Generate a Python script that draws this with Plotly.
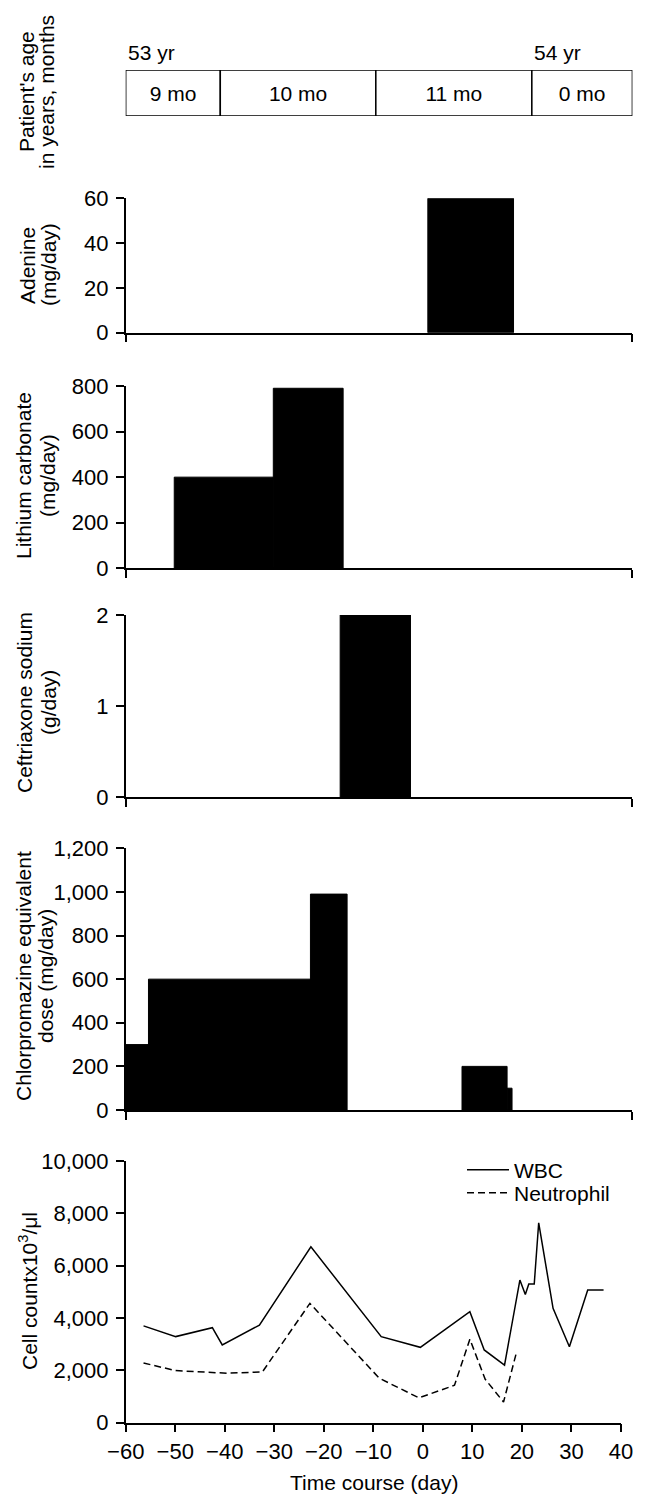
import plotly.graph_objects as go

# ---- data ----
month_labels = ["9 mo", "10 mo", "11 mo", "0 mo"]
month_start = [-60.0, -40.9, -9.5, 22.0]
month_end = [-40.9, -9.5, 22.0, 42.3]
year_labels = ["53 yr", "54 yr"]
year_day = [-60.0, 22.0]

adenine_start = [1.0]
adenine_end = [18.3]
adenine_dose = [60]

lithium_start = [-50.2, -30.2]
lithium_end = [-30.2, -16.1]
lithium_dose = [400, 790]

ceftriaxone_start = [-16.7]
ceftriaxone_end = [-2.5]
ceftriaxone_dose = [2]

cpz_start = [-60.0, -55.4, -22.7, 7.9, 17.0]
cpz_end = [-55.4, -22.7, -15.3, 17.0, 18.0]
cpz_dose = [300, 600, 990, 200, 100]

wbc_day = [-56.4, -49.9, -42.5, -40.5, -33.0, -22.6, -8.4, -0.5, 9.5, 12.4, 16.5,
           19.6, 20.7, 21.4, 22.5, 23.4, 26.3, 29.6, 33.3, 36.5]
wbc_count = [3700, 3290, 3630, 2970, 3730, 6720, 3290, 2880, 4240, 2780, 2200,
             5450, 4900, 5300, 5300, 7640, 4370, 2900, 5070, 5070]

neut_day = [-56.4, -49.9, -39.6, -32.4, -22.8, -8.8, -0.8, 6.4, 9.5, 12.6, 16.3, 18.9]
neut_count = [2280, 1990, 1890, 1940, 4560, 1700, 950, 1430, 3190, 1660, 790, 2680]

day_ticks = [-60, -50, -40, -30, -20, -10, 0, 10, 20, 30, 40]

W, H = 646, 1506
FONT = "Liberation Sans, Arial, Helvetica, sans-serif"


def px_x(p):
    return p / W


def px_y(p):
    return 1 - p / H


def widths(starts, ends):
    return [e - s for s, e in zip(starts, ends)]


fig = go.Figure()

# age timeline
fig.add_trace(go.Bar(
    y=[0] * len(month_labels), x=widths(month_start, month_end), base=month_start,
    orientation="h", width=1, text=month_labels, textposition="inside",
    insidetextanchor="middle", textangle=0, cliponaxis=False,
    textfont=dict(size=21, color="black", family=FONT),
    marker=dict(color="white", line=dict(color="black", width=1.5)),
    xaxis="x", yaxis="y", showlegend=False, hoverinfo="skip"))

dose_panels = [
    (adenine_start, adenine_end, adenine_dose, "x2", "y2"),
    (lithium_start, lithium_end, lithium_dose, "x3", "y3"),
    (ceftriaxone_start, ceftriaxone_end, ceftriaxone_dose, "x4", "y4"),
    (cpz_start, cpz_end, cpz_dose, "x5", "y5"),
]
for s, e, v, xa, ya in dose_panels:
    fig.add_trace(go.Bar(x=s, y=v, width=widths(s, e), offset=0,
                         marker=dict(color="black", line=dict(color="black", width=1)),
                         xaxis=xa, yaxis=ya, showlegend=False))

fig.add_trace(go.Scatter(x=wbc_day, y=wbc_count, mode="lines", name="WBC",
                         line=dict(color="black", width=1.5),
                         xaxis="x6", yaxis="y6", legend="legend"))
fig.add_trace(go.Scatter(x=neut_day, y=neut_count, mode="lines", name="Neutrophil",
                         line=dict(color="black", width=1.5, dash="7px,4px"),
                         xaxis="x6", yaxis="y6", legend="legend2"))

LEFT, RIGHT_UP, RIGHT_LOW = 125.7, 632.4, 620.9
up_dom = [px_x(LEFT), px_x(RIGHT_UP)]
low_dom = [px_x(LEFT), px_x(RIGHT_LOW)]
up_range = [-60, 42.3]

tick_font = dict(size=22, color="black", family=FONT)
xa_up = dict(domain=up_dom, range=up_range, showline=True, linecolor="black",
             linewidth=1.5, ticks="outside", ticklen=8, tickwidth=1.5,
             tickcolor="black", tickvals=[-60, 42.29], showticklabels=False,
             showgrid=False, zeroline=False, fixedrange=True, automargin=False)


def ya(top, bottom, rng, dtick, fmt=""):
    return dict(domain=[px_y(bottom), px_y(top)], range=rng, dtick=dtick,
                tickformat=fmt, showline=True, linecolor="black", linewidth=1.5,
                ticks="outside", ticklen=8, tickwidth=1.5, tickcolor="black",
                tickfont=tick_font, ticklabelstandoff=3, showgrid=False,
                zeroline=False, automargin=False)


fig.update_layout(
    width=W, height=H, margin=dict(l=0, r=0, t=0, b=0, autoexpand=False),
    paper_bgcolor="white", plot_bgcolor="white",
    font=dict(family=FONT, color="black", size=20),
    barmode="overlay",
    xaxis=dict(domain=up_dom, range=up_range, visible=False),
    yaxis=dict(domain=[px_y(116), px_y(70)], range=[-0.5, 0.5], visible=False),
    xaxis2=dict(xa_up, anchor="y2"),
    yaxis2=ya(198.3, 332.7, [0, 60], 20),
    xaxis3=dict(xa_up, anchor="y3"),
    yaxis3=ya(386, 568.3, [0, 800], 200),
    xaxis4=dict(xa_up, anchor="y4"),
    yaxis4=ya(615, 797.3, [0, 2], 1),
    xaxis5=dict(xa_up, anchor="y5"),
    yaxis5=ya(848.3, 1110, [0, 1200], 200, ","),
    xaxis6=dict(domain=low_dom, range=[-60, 40], anchor="y6", tickvals=day_ticks,
                showline=True, linecolor="black", linewidth=1.5, ticks="outside",
                ticklen=8, tickwidth=1.5, tickcolor="black", tickfont=tick_font,
                showgrid=False, zeroline=False, automargin=False),
    yaxis6=ya(1161, 1422.7, [0, 10000], 2000, ","),
    legend=dict(x=px_x(462), y=px_y(1170), xanchor="left", yanchor="middle",
                font=dict(size=21, family=FONT), bgcolor="rgba(0,0,0,0)",
                itemwidth=42),
    legend2=dict(x=px_x(462), y=px_y(1193), xanchor="left", yanchor="middle",
                 font=dict(size=21, family=FONT), bgcolor="rgba(0,0,0,0)",
                 itemwidth=42),
)

# year labels above the timeline
for lab, d in zip(year_labels, year_day):
    fig.add_annotation(x=d, y=px_y(53), xref="x", yref="paper", text=lab,
                       showarrow=False, xanchor="left", yanchor="middle",
                       font=dict(size=21))

# rotated y-axis titles (one annotation per line)
titles = [
    ("Patient's age", 27, 92), ("in years, months", 47, 92),
    ("Adenine", 27, 265), ("(mg/day)", 48, 265),
    ("Lithium carbonate", 24, 476), ("(mg/day)", 48, 476),
    ("Ceftriaxone sodium", 24, 703), ("(g/day)", 48, 703),
    ("Chlorpromazine equivalent", 23, 976), ("dose (mg/day)", 45, 976),
    ("Cell countx10<sup>3</sup>/μl", 28, 1291),
]
for txt, cx, cy in titles:
    fig.add_annotation(x=px_x(cx), y=px_y(cy), xref="paper", yref="paper",
                       text=txt, textangle=-90, showarrow=False,
                       xanchor="center", yanchor="middle", font=dict(size=21))

fig.add_annotation(x=px_x(374), y=px_y(1482), xref="paper", yref="paper",
                   text="Time course (day)", showarrow=False,
                   xanchor="center", yanchor="middle", font=dict(size=21))

# drop the default page margin so the figure sits at the window origin
fig.write_html("out.html", config={"displayModeBar": False},
               post_script="document.body.style.margin='0';"
                           "document.body.style.overflow='hidden';")
